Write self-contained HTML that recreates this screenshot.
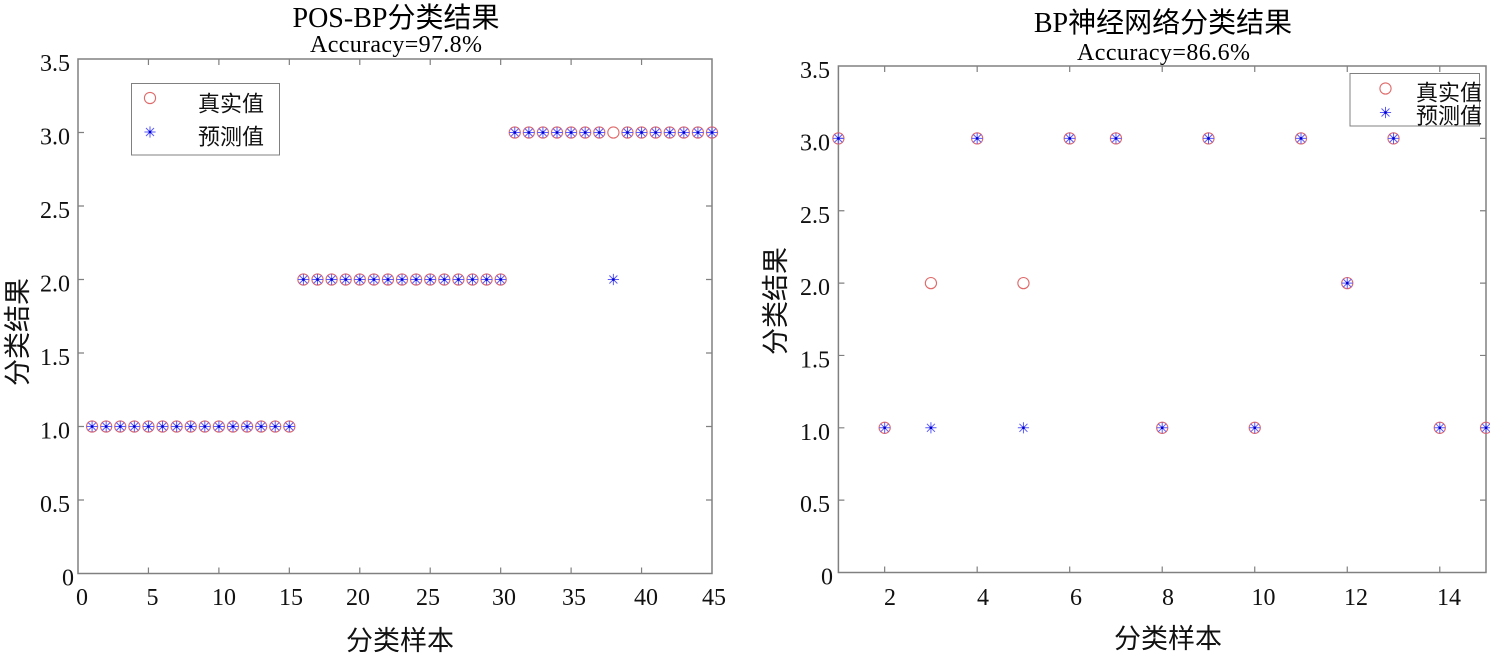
<!DOCTYPE html>
<html>
<head>
<meta charset="utf-8">
<style>
html,body{margin:0;padding:0;background:#fff;}
svg{display:block;}
.num{font-family:"Liberation Serif","Noto Serif CJK SC",serif;font-size:24px;fill:#111;}
.ttl{font-family:"Liberation Serif","Noto Sans CJK SC",sans-serif;font-size:28px;fill:#000;}
.acc{font-family:"Liberation Serif",serif;font-size:24px;fill:#000;}
.lab{font-family:"Liberation Serif","Noto Sans CJK SC",sans-serif;font-size:27px;fill:#111;}
.leg{font-family:"Liberation Serif","Noto Sans CJK SC",sans-serif;font-size:22px;fill:#111;}
</style>
</head>
<body>
<svg width="1490" height="659" viewBox="0 0 1490 659" xmlns="http://www.w3.org/2000/svg">
<defs>
  <g id="c"><circle cx="0" cy="0" r="5.6" fill="none" stroke="#e06a6a" stroke-width="1.1"/></g>
  <g id="s">
    <path d="M-5.6,0H5.6M0,-5.6V5.6M-4,-4L4,4M-4,4L4,-4" stroke="#5a5aff" stroke-width="1" fill="none"/>
    <rect x="-1.2" y="-1.2" width="2.4" height="2.4" fill="#0000cc"/>
  </g>
  <g id="m"><use href="#c"/><use href="#s"/></g>
</defs>

<!-- ================= LEFT CHART ================= -->
<text class="ttl" x="396" y="27" text-anchor="middle">POS-BP分类结果</text>
<text class="acc" x="310" y="52" textLength="172" lengthAdjust="spacing">Accuracy=97.8%</text>

<g stroke="#808080" stroke-width="1.5" fill="none">
  <rect x="78" y="59" width="634" height="514.5"/>
</g>
<g stroke="#808080" stroke-width="1.2">
  <path d="M148.44,573.5v-6M218.89,573.5v-6M289.33,573.5v-6M359.78,573.5v-6M430.22,573.5v-6M500.67,573.5v-6M571.11,573.5v-6M641.56,573.5v-6"/>
  <path d="M148.44,59v6M218.89,59v6M289.33,59v6M359.78,59v6M430.22,59v6M500.67,59v6M571.11,59v6M641.56,59v6"/>
  <path d="M78,500h6M78,426.5h6M78,353h6M78,279.5h6M78,206h6M78,132.5h6"/>
  <path d="M712,500h-6M712,426.5h-6M712,353h-6M712,279.5h-6M712,206h-6M712,132.5h-6"/>
</g>

<g class="num" text-anchor="end">
  <text x="70" y="71">3.5</text>
  <text x="70" y="144.5">3.0</text>
  <text x="70" y="218">2.5</text>
  <text x="70" y="291.5">2.0</text>
  <text x="70" y="365">1.5</text>
  <text x="70" y="438.5">1.0</text>
  <text x="70" y="512">0.5</text>
  <text x="74" y="585.5">0</text>
</g>
<g class="num" text-anchor="middle">
  <text x="82" y="605">0</text>
  <text x="152.5" y="605">5</text>
  <text x="224" y="605">10</text>
  <text x="291" y="605">15</text>
  <text x="358" y="605">20</text>
  <text x="428" y="605">25</text>
  <text x="504" y="605">30</text>
  <text x="574" y="605">35</text>
  <text x="646" y="605">40</text>
  <text x="714" y="605">45</text>
</g>

<text class="lab" x="400" y="650" text-anchor="middle">分类样本</text>
<text class="lab" transform="translate(27,332) rotate(-90)" text-anchor="middle">分类结果</text>

<g>
  <use href="#m" x="92.09" y="426.5"/>
  <use href="#m" x="106.18" y="426.5"/>
  <use href="#m" x="120.27" y="426.5"/>
  <use href="#m" x="134.36" y="426.5"/>
  <use href="#m" x="148.44" y="426.5"/>
  <use href="#m" x="162.53" y="426.5"/>
  <use href="#m" x="176.62" y="426.5"/>
  <use href="#m" x="190.71" y="426.5"/>
  <use href="#m" x="204.80" y="426.5"/>
  <use href="#m" x="218.89" y="426.5"/>
  <use href="#m" x="232.98" y="426.5"/>
  <use href="#m" x="247.07" y="426.5"/>
  <use href="#m" x="261.16" y="426.5"/>
  <use href="#m" x="275.24" y="426.5"/>
  <use href="#m" x="289.33" y="426.5"/>

  <use href="#m" x="303.42" y="279.5"/>
  <use href="#m" x="317.51" y="279.5"/>
  <use href="#m" x="331.60" y="279.5"/>
  <use href="#m" x="345.69" y="279.5"/>
  <use href="#m" x="359.78" y="279.5"/>
  <use href="#m" x="373.87" y="279.5"/>
  <use href="#m" x="387.96" y="279.5"/>
  <use href="#m" x="402.04" y="279.5"/>
  <use href="#m" x="416.13" y="279.5"/>
  <use href="#m" x="430.22" y="279.5"/>
  <use href="#m" x="444.31" y="279.5"/>
  <use href="#m" x="458.40" y="279.5"/>
  <use href="#m" x="472.49" y="279.5"/>
  <use href="#m" x="486.58" y="279.5"/>
  <use href="#m" x="500.67" y="279.5"/>

  <use href="#m" x="514.76" y="132.5"/>
  <use href="#m" x="528.84" y="132.5"/>
  <use href="#m" x="542.93" y="132.5"/>
  <use href="#m" x="557.02" y="132.5"/>
  <use href="#m" x="571.11" y="132.5"/>
  <use href="#m" x="585.20" y="132.5"/>
  <use href="#m" x="599.29" y="132.5"/>
  <use href="#c" x="613.38" y="132.5"/>
  <use href="#s" x="613.38" y="279.5"/>
  <use href="#m" x="627.47" y="132.5"/>
  <use href="#m" x="641.56" y="132.5"/>
  <use href="#m" x="655.64" y="132.5"/>
  <use href="#m" x="669.73" y="132.5"/>
  <use href="#m" x="683.82" y="132.5"/>
  <use href="#m" x="697.91" y="132.5"/>
  <use href="#m" x="712.00" y="132.5"/>
</g>

<rect x="131.5" y="83.5" width="148" height="71.5" fill="#fff" stroke="#808080" stroke-width="1"/>
<use href="#c" x="150" y="98"/>
<use href="#s" x="150" y="132"/>
<text class="leg" x="198" y="104" dominant-baseline="central">真实值</text>
<text class="leg" x="198" y="137" dominant-baseline="central">预测值</text>

<!-- ================= RIGHT CHART ================= -->
<text class="ttl" x="1163" y="32" text-anchor="middle">BP神经网络分类结果</text>
<text class="acc" x="1077" y="60" textLength="173" lengthAdjust="spacing">Accuracy=86.6%</text>

<g stroke="#808080" stroke-width="1.5" fill="none">
  <rect x="838.4" y="66" width="647.6" height="506.5"/>
</g>
<g stroke="#808080" stroke-width="1.2">
  <path d="M884.66,572.5v-6M977.18,572.5v-6M1069.7,572.5v-6M1162.22,572.5v-6M1254.74,572.5v-6M1347.26,572.5v-6M1439.78,572.5v-6"/>
  <path d="M884.66,66v6M977.18,66v6M1069.7,66v6M1162.22,66v6M1254.74,66v6M1347.26,66v6M1439.78,66v6"/>
  <path d="M838.4,500.15h6M838.4,427.8h6M838.4,355.45h6M838.4,283.1h6M838.4,210.75h6M838.4,138.4h6"/>
  <path d="M1486,500.15h-6M1486,427.8h-6M1486,355.45h-6M1486,283.1h-6M1486,210.75h-6M1486,138.4h-6"/>
</g>

<g class="num" text-anchor="end">
  <text x="830" y="78">3.5</text>
  <text x="830" y="150.4">3.0</text>
  <text x="830" y="222.75">2.5</text>
  <text x="830" y="295.1">2.0</text>
  <text x="830" y="367.45">1.5</text>
  <text x="830" y="439.8">1.0</text>
  <text x="830" y="512.15">0.5</text>
  <text x="833" y="584.5">0</text>
</g>
<g class="num" text-anchor="middle">
  <text x="890" y="605">2</text>
  <text x="983" y="605">4</text>
  <text x="1076" y="605">6</text>
  <text x="1168" y="605">8</text>
  <text x="1263.5" y="605">10</text>
  <text x="1356" y="605">12</text>
  <text x="1449" y="605">14</text>
</g>

<text class="lab" x="1168" y="648" text-anchor="middle">分类样本</text>
<text class="lab" transform="translate(785,301) rotate(-90)" text-anchor="middle">分类结果</text>

<g>
  <use href="#m" x="838.4" y="138.4"/>
  <use href="#m" x="884.66" y="427.8"/>
  <use href="#c" x="930.92" y="283.1"/>
  <use href="#s" x="930.92" y="427.8"/>
  <use href="#m" x="977.18" y="138.4"/>
  <use href="#c" x="1023.44" y="283.1"/>
  <use href="#s" x="1023.44" y="427.8"/>
  <use href="#m" x="1069.7" y="138.4"/>
  <use href="#m" x="1115.96" y="138.4"/>
  <use href="#m" x="1162.22" y="427.8"/>
  <use href="#m" x="1208.48" y="138.4"/>
  <use href="#m" x="1254.74" y="427.8"/>
  <use href="#m" x="1301.0" y="138.4"/>
  <use href="#m" x="1347.26" y="283.1"/>
  <use href="#m" x="1393.52" y="138.4"/>
  <use href="#m" x="1439.78" y="427.8"/>
  <use href="#m" x="1486.04" y="427.8"/>
</g>

<rect x="1350" y="73.5" width="129.5" height="52.5" fill="#fff" stroke="#808080" stroke-width="1"/>
<use href="#c" x="1385.5" y="88.5"/>
<use href="#s" x="1385.5" y="112.5"/>
<text class="leg" x="1416" y="93" dominant-baseline="central">真实值</text>
<text class="leg" x="1416" y="116" dominant-baseline="central">预测值</text>
</svg>
</body>
</html>
